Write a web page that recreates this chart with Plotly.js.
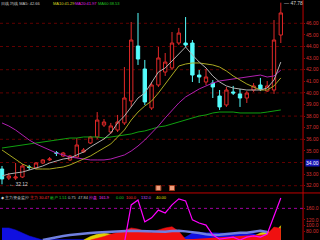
<!DOCTYPE html>
<html><head><meta charset="utf-8">
<script src="https://cdn.plot.ly/plotly-2.35.2.min.js"></script>
<style>html,body{margin:0;padding:0;background:#000;overflow:hidden}#c{width:320px;height:240px}</style>
</head><body><div id="c"></div>
<script>
// ---- data ----
const days = [0,1,2,3,4,5,6,7,8,9,10,11,12,13,14,15,16,17,18,19,20,21,22,23,24,25,26,27,28,29,30,31,32,33,34,35,36,37,38,39,40,41];
const open  = [33.44,32.66,32.66,32.75,33.62,33.53,33.96,34.22,34.85,34.56,34.22,34.47,34.91,35.68,36.20,37.23,36.63,36.80,37.41,39.30,44.04,42.06,38.70,40.68,41.80,42.15,44.30,44.30,44.30,41.54,40.94,40.85,39.73,38.96,40.08,39.91,39.56,40.25,40.68,40.16,40.25,44.99];
const high  = [33.70,33.10,33.96,33.87,33.79,34.04,34.30,34.47,34.99,34.91,34.65,36.11,35.25,36.29,38.35,37.75,37.41,38.10,42.23,46.11,46.89,42.84,40.94,43.96,43.44,45.25,45.60,46.54,44.56,41.97,42.06,41.11,40.25,40.51,40.60,40.34,40.16,40.85,41.29,41.03,46.28,47.78];
const low   = [32.12,32.49,32.49,32.66,33.35,33.44,33.87,34.13,34.56,34.47,34.13,34.39,34.82,35.60,36.03,37.06,36.46,36.63,37.23,38.79,42.41,38.96,38.53,40.51,41.46,41.97,44.13,43.96,40.94,40.85,40.68,39.56,38.53,38.79,39.82,38.79,39.13,40.08,40.16,40.08,39.91,44.30];
const close = [32.58,32.84,32.75,33.70,33.58,33.96,34.22,34.30,34.80,34.82,34.56,35.51,35.08,36.20,37.66,37.49,37.15,37.49,39.56,44.56,42.92,39.22,40.68,43.01,42.66,44.30,45.16,44.13,41.54,41.37,41.37,40.51,38.79,40.25,39.99,39.56,39.99,40.60,40.34,40.60,44.56,46.89];
const ma5  = [32.84,33.01,33.10,33.18,33.35,33.53,33.70,33.96,34.13,34.30,34.39,34.65,34.91,35.34,35.68,36.03,36.54,37.41,38.01,38.79,39.56,39.99,40.94,41.80,42.15,42.75,43.44,43.96,43.27,42.66,42.15,41.46,40.94,40.60,40.42,40.34,40.25,40.25,40.25,40.42,41.11,42.66];
const ma10 = [35.08,34.65,34.22,33.87,33.61,33.44,33.44,33.44,33.53,33.61,33.79,34.04,34.30,34.56,34.91,35.25,35.60,36.20,36.80,37.66,38.35,38.87,39.30,39.99,40.77,41.63,42.32,42.49,42.58,42.58,42.49,42.41,42.23,41.89,41.46,41.11,40.77,40.51,40.25,40.25,40.60,41.29];
const ma20 = [37.41,37.15,36.80,36.37,35.94,35.60,35.34,35.08,34.82,34.65,34.47,34.39,34.30,34.22,34.22,34.22,34.30,34.47,34.65,34.99,35.42,35.94,36.54,37.15,37.84,38.53,39.13,39.65,39.99,40.34,40.60,40.85,41.03,41.11,41.20,41.29,41.37,41.46,41.54,41.37,41.46,41.97];
const ma60 = [35.25,35.34,35.42,35.51,35.60,35.68,35.77,35.85,35.94,36.03,36.11,36.11,36.20,36.20,36.20,36.11,36.20,36.29,36.37,36.46,36.63,36.72,36.89,37.06,37.15,37.32,37.49,37.66,37.84,38.01,38.10,38.27,38.35,38.35,38.35,38.27,38.27,38.27,38.27,38.35,38.44,38.53];
const eventDays = [23,25];
const eventLevel = [31.80,31.80];
// lower indicator panel
const osc   = [null,null,null,null,null,null,null,null,null,null,null,null,null,null,null,null,null,null,40,172,189,113,127,154,144,172,193,186,120,109,102,67,53,57,60,50,60,64,60,71,137,196];
const blueA = [92,92,85,74,64,57,50,52,52,52,52,52,52,52,52,52,52,52,52,52,52,52,52,52,52,52,52,60,74,75,76,75,74,73,74,75,74,72,64,57,52,52];
const yellA = [null,null,null,null,null,null,null,null,null,null,null,null,50,62,70,74,70,64,58,55,55,58,64,70,66,58,52,null,null,null,null,null,null,null,null,null,52,62,74,80,72,100];
const redA  = [null,null,null,null,null,null,null,null,null,null,null,null,null,50,55,62,70,75,82,92,88,80,76,85,92,96,80,52,null,null,null,null,null,null,null,null,null,null,null,70,95,90];
const lineB = [null,null,null,null,null,null,50,55,60,64,67,70,72,74,76,77,78,80,82,82,81,80,79,78,79,81,82,80,78,74,70,67,68,71,73,75,75,78,82,78,null,null];
const priceTicks = [46,45,44,43,42,41,40,39,38,37,36,35,33,32];
const gridLevels = [46,44,42,40,38,36,34,32];
const indTicks = [160,120,100,80];
const indTickText = ['160.0','120.0','100.0','80.00'];

const FONT = 'Liberation Sans, DejaVu Sans, sans-serif';
const traces = [
  {type:'candlestick', x:days, open:open, high:high, low:low, close:close, xaxis:'x', yaxis:'y',
   increasing:{line:{color:'#e02828',width:1}, fillcolor:'#000000'},
   decreasing:{line:{color:'#54fcfc',width:1}, fillcolor:'#54fcfc'}, whiskerwidth:0, hoverinfo:'skip'},
  {type:'scatter', mode:'lines', x:days, y:ma60, line:{color:'#10a010',width:1}, xaxis:'x', yaxis:'y'},
  {type:'scatter', mode:'lines', x:days, y:ma20, line:{color:'#b020b0',width:1}, xaxis:'x', yaxis:'y'},
  {type:'scatter', mode:'lines', x:days, y:ma10, line:{color:'#a8a820',width:1}, xaxis:'x', yaxis:'y'},
  {type:'scatter', mode:'lines', x:days, y:ma5,  line:{color:'#b0b0b0',width:1}, xaxis:'x', yaxis:'y'},
  {type:'scatter', mode:'markers', x:eventDays, y:eventLevel, marker:{symbol:'square',size:5,color:'#f0a080',line:{color:'#a04020',width:1}}, xaxis:'x', yaxis:'y'},
  {type:'scatter', mode:'lines', x:days, y:blueA, fill:'tozeroy', fillcolor:'#1010e0', line:{color:'#1010e0',width:0.5}, xaxis:'x2', yaxis:'y2'},
  {type:'scatter', mode:'lines', x:days, y:yellA, fill:'tozeroy', fillcolor:'#e0d000', line:{color:'#e0d000',width:0.5}, xaxis:'x2', yaxis:'y2'},
  {type:'scatter', mode:'lines', x:days, y:redA, fill:'tozeroy', fillcolor:'#f01010', line:{color:'#f01010',width:0.5}, xaxis:'x2', yaxis:'y2'},
  {type:'scatter', mode:'lines', x:days, y:lineB, line:{color:'#7080e0',width:2.5}, xaxis:'x2', yaxis:'y2'},
  {type:'scatter', mode:'lines', x:days, y:osc, line:{color:'#ff00ff',width:1.2}, xaxis:'x2', yaxis:'y2'}
];

const XR = [-0.294, 44.27];
const DOMX = [0, 0.947];
const shapes = gridLevels.map(v => ({type:'line', xref:'paper', x0:0, x1:0.947, yref:'y', y0:v, y1:v, line:{color:'#600000',width:1,dash:'dot'}, layer:'below'}));
shapes.push({type:'line', xref:'paper', yref:'paper', x0:0.947, x1:0.947, y0:0, y1:1, line:{color:'#c00000',width:1}});
shapes.push({type:'line', xref:'paper', yref:'paper', x0:0, x1:1, y0:0.196, y1:0.196, line:{color:'#c00000',width:1}});
shapes.push({type:'line', xref:'paper', x0:0, x1:0.947, yref:'y2', y0:160, y1:160, line:{color:'#a000a0',width:1,dash:'dot'}});

function seg(x, y, text, color, anchor) {
  return {xref:'paper', yref:'paper', x:x/320, y:y, text:text, showarrow:false, xanchor:'left', yanchor:anchor || 'middle',
          font:{family:FONT, size:4, color:color}, borderpad:0};
}
const R = 1-197/240;
const annotations = [
  seg(0, 1.0, '日线 均线 MA5: 42.66', '#c8c8c8', 'top'),
  seg(52, 1.0, 'MA10:41.29', '#d8d820', 'top'),
  seg(74, 1.0, 'MA20:41.97', '#e020e0', 'top'),
  seg(97, 1.0, 'MA60:38.53', '#20c020', 'top'),
  seg(0, R, '◆ 主力资金监控', '#d0d0d0'),
  seg(29, R, '主力', '#ff3030'),
  seg(38, R, '30.47', '#ff3030'),
  seg(49, R, '散户', '#20d020'),
  seg(58, R, '1.51', '#20d020'),
  seg(67, R, '0.75', '#c0c0c0'),
  seg(77, R, '47.84', '#c0c0c0'),
  seg(88, R, '控盘', '#ff30ff'),
  seg(98, R, '161.9', '#ff30ff'),
  seg(115, R, '0.00', '#20d020'),
  seg(125, R, '100.0', '#ff3030'),
  seg(140, R, '132.0', '#c050ff'),
  seg(155, R, '40.00', '#e0e000'),
  {xref:'x', yref:'y', x:41, y:47.78, text:'— 47.78', showarrow:false, xanchor:'left', yanchor:'middle', xshift:1,
   font:{family:FONT, size:5, color:'#d0d0d0'}},
  {xref:'x', yref:'y', x:0, y:32.12, text:'← 32.12', showarrow:false, xanchor:'left', yanchor:'middle', xshift:5,
   font:{family:FONT, size:5, color:'#d0d0d0'}},
  {xref:'paper', yref:'y', x:0.952, y:34, text:'34.00', showarrow:false, xanchor:'left', yanchor:'middle',
   bgcolor:'#1818b8', borderpad:0, font:{family:FONT, size:5, color:'#ffffff'}}
];

const layout = {
  width:320, height:240, margin:{l:0,r:0,t:0,b:0}, paper_bgcolor:'#000000', plot_bgcolor:'#000000', showlegend:false,
  xaxis:{domain:DOMX, range:XR, visible:false, rangeslider:{visible:false}, anchor:'y', fixedrange:true},
  yaxis:{domain:[0.2,1], range:[31.457,48.009], side:'right', anchor:'x', tickvals:priceTicks,
         ticktext:priceTicks.map(v=>v.toFixed(2)), tickfont:{family:FONT,size:5,color:'#d83030'},
         showgrid:false, zeroline:false, ticks:'outside', ticklen:1, tickcolor:'#a00000', showline:false},
  xaxis2:{domain:DOMX, range:XR, visible:false, anchor:'y2', rangeslider:{visible:false}},
  yaxis2:{domain:[0,0.1917], range:[50,210], side:'right', anchor:'x2', tickvals:indTicks, ticktext:indTickText,
          tickfont:{family:FONT,size:5,color:'#d83030'}, showgrid:false, zeroline:false, ticks:'outside', ticklen:1, tickcolor:'#a00000'},
  shapes:shapes, annotations:annotations
};
Plotly.newPlot('c', traces, layout, {staticPlot:true, displayModeBar:false});
</script></body></html>
